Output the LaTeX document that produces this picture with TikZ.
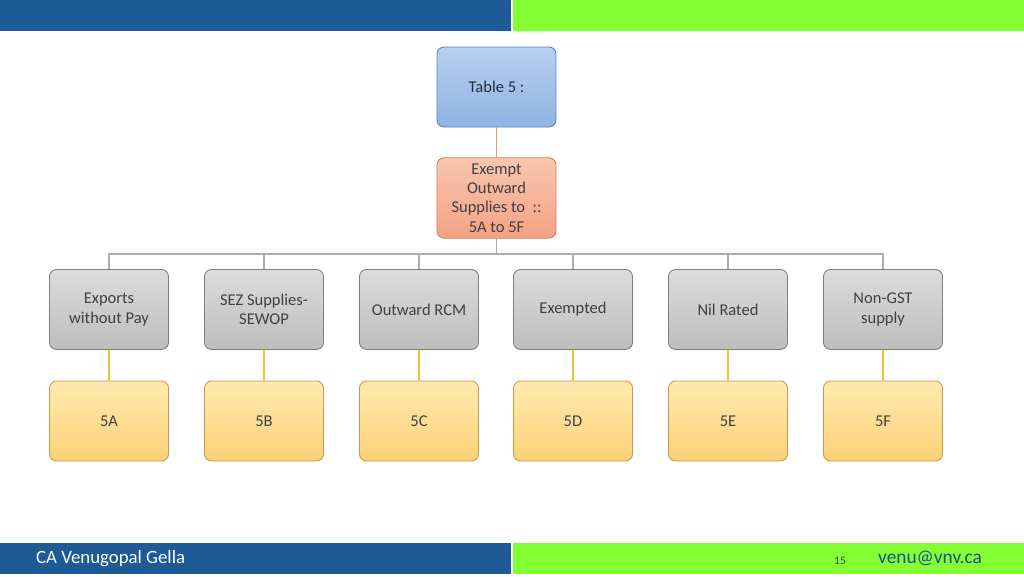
\documentclass[tikz,border=0pt]{standalone}
\usepackage{fontspec}
\setmainfont{Carlito}
\usetikzlibrary{positioning}

\definecolor{barblue}{HTML}{1D5A96}
\definecolor{bargreen}{HTML}{84FF33}
\definecolor{txtgray}{HTML}{404040}
\definecolor{blueD}{HTML}{5B82B8}
\definecolor{blueT}{HTML}{1F2F40}
\definecolor{blueA}{HTML}{B7D0EE}
\definecolor{blueB}{HTML}{8FB3E3}
\definecolor{salmonA}{HTML}{F9C6AE}
\definecolor{salmonB}{HTML}{F4A283}
\definecolor{salmonD}{HTML}{C8805F}
\definecolor{grayA}{HTML}{DCDCDC}
\definecolor{grayB}{HTML}{BDBDBD}
\definecolor{grayD}{HTML}{7F7F7F}
\definecolor{yelA}{HTML}{FFE9B0}
\definecolor{yelB}{HTML}{FCD177}
\definecolor{yelD}{HTML}{C49A4A}
\definecolor{linkO}{HTML}{E9A064}
\definecolor{linkY}{HTML}{F2C530}
\definecolor{mailblue}{HTML}{1F4E8C}

\tikzset{
  box/.style={rounded corners=4pt, draw, line width=0.5pt, minimum width=2.38cm,
    minimum height=1.6cm, align=center, text=txtgray,
    font=\fontsize{9.4}{11}\selectfont},
  topbox/.style={box, draw=blueD, top color=blueA, bottom color=blueB, text=blueT},
  midbox/.style={box, draw=salmonD, top color=salmonA, bottom color=salmonB},
  graybox/.style={box, draw=grayD, top color=grayA, bottom color=grayB},
  yelbox/.style={box, draw=yelD, top color=yelA, bottom color=yelB}
}

\begin{document}
\begin{tikzpicture}[x=0.02cm,y=-0.02cm]
  \useasboundingbox (0,0) rectangle (1024,576);

  % bars
  \fill[barblue] (0,0) rectangle (511,31);
  \fill[bargreen] (513,0) rectangle (1024,31);
  \fill[barblue] (0,543) rectangle (511,574);
  \fill[bargreen] (513,543) rectangle (1024,574);
  \node[anchor=west, text=white, font=\fontsize{10.7}{13}\selectfont] (author) at (30,559) {CA Venugopal Gella};
  \node[text=txtgray, font=\fontsize{6.5}{8}\selectfont] (page) at (840,561) {15};
  \node[text=mailblue, font=\fontsize{11}{13}\selectfont] (mail) at (930,558) {venu@vnv.ca};

  % tree
  \node[topbox] (table) at (496.5,87) {Table 5 :};
  \node[midbox] (exempt) at (496.5,198) {Exempt\\Outward\\Supplies to~ ::\\5A to 5F};
  \coordinate (bus) at (0,254);
  \draw[linkO, line width=0.6pt] (table) -- (exempt);

  \foreach \x/\lab/\code [count=\i] in {109/{Exports\\without Pay}/5A,
      264/{SEZ Supplies-\\SEWOP}/5B, 419/{Outward RCM}/5C,
      573/{Exempted}/5D, 728/{Nil Rated}/5E, 883/{Non-GST\\supply}/5F}{
    \node[graybox] (g\i) at (\x,309.5) {\lab};
    \node[yelbox] (y\i) at (\x,421) {\code};
    \draw[grayD!65, line width=0.6pt] (exempt.south) -- (exempt.south |- bus) -| (g\i.north);
    \draw[linkY, line width=0.6pt] (g\i) -- (y\i);
  }
\end{tikzpicture}
\end{document}
